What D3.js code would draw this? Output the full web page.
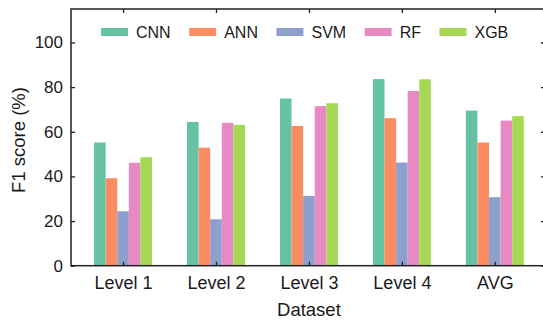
<!DOCTYPE html>
<html>
<head>
<meta charset="utf-8">
<script src="https://d3js.org/d3.v7.min.js"></script>
<style>
  body { margin: 0; background: #fff; }
  svg text { font-family: "Liberation Sans", Arial, sans-serif; fill: #1a1a1a; }
</style>
</head>
<body>
<div id="chart"></div>
<script>
// categories and series
var datasets = ["Level 1", "Level 2", "Level 3", "Level 4", "AVG"];
var models = ["CNN", "ANN", "SVM", "RF", "XGB"];
var colors = ["#66c2a5", "#fc8d62", "#8da0cb", "#e78ac3", "#a6d854"];
var cnn = [55.2, 64.4, 74.9, 83.6, 69.5];
var ann = [39.2, 52.9, 62.6, 66.1, 55.2];
var svm = [24.4, 20.8, 31.3, 46.2, 30.7];
var rf  = [46.1, 64.0, 71.5, 78.3, 65.0];
var xgb = [48.6, 63.1, 72.8, 83.5, 67.0];
var yTicks = [0, 20, 40, 60, 80, 100];

var series = [cnn, ann, svm, rf, xgb];

var W = 543, H = 323;
var margin = {left: 71, right: -2, top: 9, bottom: 57.3};

var svg = d3.select("#chart").append("svg")
    .attr("width", W)
    .attr("height", H);

// x is a linear scale over dataset index (1..5)
var x = d3.scaleLinear().domain([0.44, 5.54]).range([margin.left, W - margin.right]);
var y = d3.scaleLinear().domain([0, 115]).range([H - margin.bottom, margin.top]);
var barW = 0.1247;

// bars
var rows = [];
series.forEach(function(vals, m) {
  vals.forEach(function(v, i) {
    rows.push({model: m, idx: i + 1, value: v});
  });
});

svg.append("g").selectAll("rect")
  .data(rows)
  .enter().append("rect")
    .attr("x", function(d) { return x(d.idx + (d.model - 2.5) * barW); })
    .attr("width", function(d) { return x(d.idx + barW) - x(d.idx); })
    .attr("y", function(d) { return y(d.value); })
    .attr("height", function(d) { return y(0) - y(d.value); })
    .attr("fill", function(d) { return colors[d.model]; });

// axes (ticks inward)
var idxTicks = datasets.map(function(d, i) { return i + 1; });

var gx = svg.append("g")
    .attr("transform", "translate(0," + y(0) + ")")
    .call(d3.axisBottom(x).tickValues(idxTicks).tickSize(-4).tickPadding(10.5)
      .tickFormat(function(d) { return datasets[d - 1]; }));
gx.selectAll("text").style("font-size", "18px");

var gy = svg.append("g")
    .attr("transform", "translate(" + margin.left + ",0)")
    .call(d3.axisLeft(y).tickValues(yTicks).tickSize(-4).tickPadding(8));
gy.selectAll("text").style("font-size", "17px");

svg.append("g")
    .attr("transform", "translate(0," + margin.top + ")")
    .call(d3.axisTop(x).tickValues(idxTicks).tickSize(-4).tickFormat(""));

svg.append("g")
    .attr("transform", "translate(" + (W - margin.right) + ",0)")
    .call(d3.axisRight(y).tickValues(yTicks).tickSize(-4).tickFormat(""));

svg.selectAll(".domain").remove();
svg.selectAll(".tick line").attr("stroke", "#222").attr("stroke-width", 1.3);

// frame
svg.append("rect")
    .attr("x", margin.left)
    .attr("y", margin.top)
    .attr("width", W - margin.right - margin.left)
    .attr("height", y(0) - margin.top)
    .attr("fill", "none")
    .attr("stroke", "#222")
    .attr("stroke-width", 1.5);

// axis titles
svg.append("text")
    .attr("x", x(3))
    .attr("y", 316)
    .attr("text-anchor", "middle")
    .style("font-size", "18.5px")
    .text("Dataset");

svg.append("text")
    .attr("transform", "translate(25," + 140 + ") rotate(-90)")
    .attr("text-anchor", "middle")
    .style("font-size", "18.5px")
    .text("F1 score (%)");

// legend
var legend = svg.append("g");
var lx = 101;
models.forEach(function(name, i) {
  legend.append("rect")
      .attr("x", lx).attr("y", 28)
      .attr("width", 27).attr("height", 8)
      .attr("fill", colors[i]);
  var t = legend.append("text")
      .attr("x", lx + 35).attr("y", 38.3)
      .style("font-size", "16px")
      .text(name);
  lx = lx + 35 + t.node().getComputedTextLength() + 18.5;
});
</script>
</body>
</html>
